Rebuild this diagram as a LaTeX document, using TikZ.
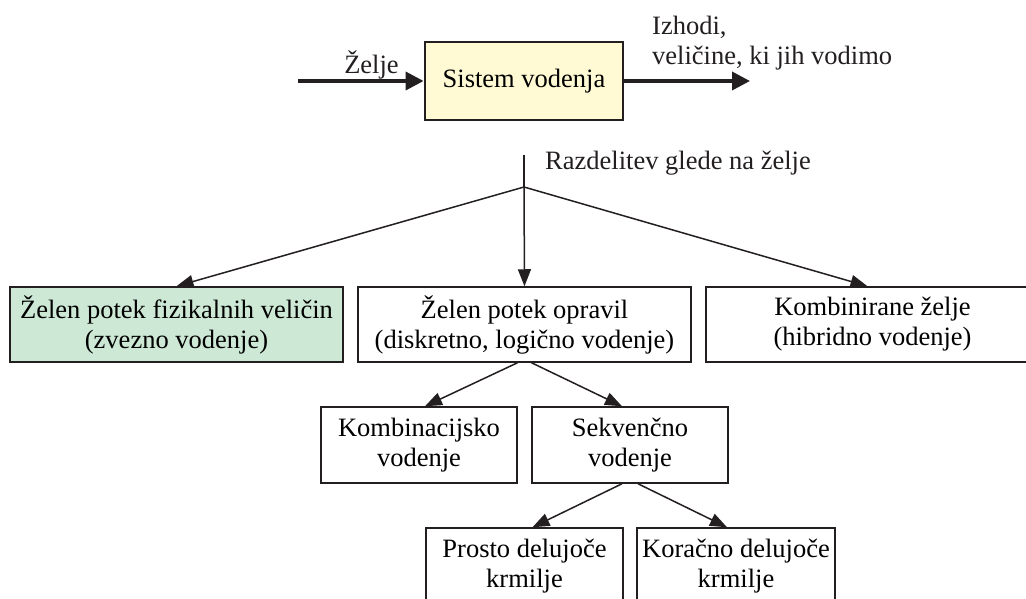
\documentclass[tikz,border=0pt]{standalone}
\usepackage{fontspec}
\setmainfont{Liberation Serif}
\usetikzlibrary{arrows.meta}

\definecolor{rumena}{HTML}{FFFAD4}
\definecolor{zelena}{HTML}{CDE8D5}
\definecolor{crta}{HTML}{231F20}

\tikzset{
  blok/.style={draw=crta, line width=1.5pt, inner sep=0pt, align=center,
    minimum height=75, font=\fontsize{26.5}{30}\selectfont},
  glavni/.style={blok, line width=2.8pt, fill=rumena, minimum width=198, minimum height=78},
  napis/.style={inner sep=0pt, font=\fontsize{26.5}{30}\selectfont, text=crta},
  tanka/.style={draw=crta, line width=1.5pt, -{Triangle[length=17pt,width=13pt]}},
  debela/.style={draw=crta, line width=3.6pt, -{Triangle[length=18pt,width=18pt]}}
}

\begin{document}
\begin{tikzpicture}[x=1pt,y=-1pt]
\clip (0,0) rectangle (1026,599);

\node[glavni] (sistem) at (524,81) {Sistem vodenja};
\coordinate (vhod) at (298,81);
\coordinate (izhod) at (750,81);
\draw[debela] (vhod) -- (sistem.west);
\draw[debela] (sistem.east) -- (izhod);
\node[napis, anchor=base] (zelje) at (371.5,74) {Želje};
\node[napis, anchor=north west, align=left] (izhodi) at (652,16) {Izhodi,\\veličine, ki jih vodimo};

\coordinate (vrh) at (524,155);
\coordinate (razcep) at (524,187);
\node[napis, anchor=base west] (razdelitev) at (545,170) {Razdelitev glede na želje};

\node[blok, fill=zelena, minimum width=333] (zvezno) at (176.5,324.5) {Želen potek fizikalnih veličin\\(zvezno vodenje)};
\node[blok, minimum width=333] (diskretno) at (524.5,324.5) {Želen potek opravil\\(diskretno, logično vodenje)};
\node[blok, minimum width=333] (hibridno) at (872.5,324.5) {Kombinirane želje\\(hibridno vodenje)};

\node[blok, minimum width=196, minimum height=76] (kombinacijsko) at (419,445) {Kombinacijsko\\vodenje};
\node[blok, minimum width=196, minimum height=76] (sekvencno) at (630,445) {Sekvenčno\\vodenje};

\node[blok, minimum width=197, minimum height=76] (prosto) at (524.5,566) {Prosto delujoče\\krmilje};
\node[blok, minimum width=198, minimum height=76] (koracno) at (736,566) {Koračno delujoče\\krmilje};

\draw[draw=crta, line width=1.5pt] (vrh) -- (razcep);
\draw[tanka] (razcep) -- (zvezno.north);
\draw[tanka] (razcep) -- (diskretno.north);
\draw[tanka] (razcep) -- ([xshift=-5pt]hibridno.north);

\draw[tanka] ([xshift=-7pt]diskretno.south) -- ([xshift=6pt]kombinacijsko.north);
\draw[tanka] ([xshift=7pt]diskretno.south) -- ([xshift=-8pt]sekvencno.north);

\draw[tanka] ([xshift=-8pt]sekvencno.south) -- ([xshift=8pt]prosto.north);
\draw[tanka] ([xshift=8pt]sekvencno.south) -- ([xshift=-9pt]koracno.north);
\end{tikzpicture}
\end{document}
